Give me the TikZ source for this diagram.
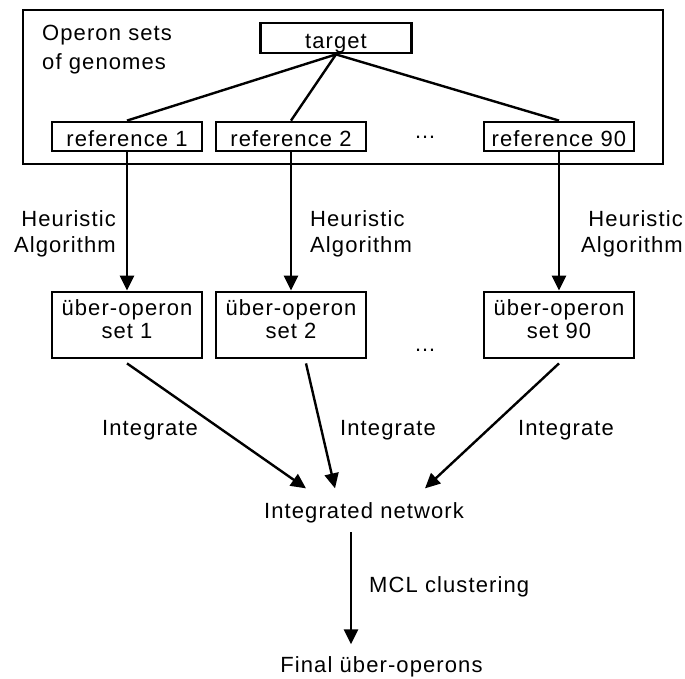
\documentclass[tikz,border=0pt]{standalone}
\usepackage{fontspec}
\setmainfont{Liberation Sans}[LetterSpace=5]
\usetikzlibrary{arrows.meta,calc}
\begin{document}
\begin{tikzpicture}[x=1pt,y=-1pt,
  every node/.style={font=\fontsize{22}{26}\selectfont, inner sep=0pt},
  frame/.style={draw, line width=2.8pt},
  refbox/.style={frame, minimum width=150pt, minimum height=29pt, text height=21pt, text depth=0pt},
  ubox/.style={frame, minimum width=150pt, minimum height=66pt, align=center, text height=40pt, text depth=14pt},
  conn/.style={line width=2.4pt},
  arr/.style={conn, -{Triangle[width=14pt,length=15pt]}},
]
\useasboundingbox (0,0) rectangle (685,679);

% outer frame
\node[frame, minimum width=640pt, minimum height=154pt] (outer) at (343,87) {};
\node[anchor=base west, align=left] (title) at (42,70) {Operon sets\\[3pt]of genomes};

% target and references
\node[refbox, minimum width=151pt, minimum height=30pt] (target) at (336,38) {target};
\node[refbox] (r1) at (127,136.5) {reference 1};
\node[refbox] (r2) at (291,136.5) {reference 2};
\node[refbox] (r90) at (559,136.5) {reference 90};
\node[anchor=base] (dots1) at (425,139) {\dots};

\draw[conn] (target.south) -- (r1.north);
\draw[conn] (target.south) -- (r2.north);
\draw[conn] (target.south) -- (r90.north);

% uber-operon sets
\node[ubox] (u1) at (127,325) {über-operon\\[-3pt]set 1};
\node[ubox] (u2) at (291,325) {über-operon\\[-3pt]set 2};
\node[ubox] (u90) at (559,325) {über-operon\\[-3pt]set 90};
\node[anchor=base] (dots2) at (425,351) {\dots};

\draw[arr] (r1.south) -- (u1.north);
\draw[arr] (r2.south) -- (u2.north);
\draw[arr] (r90.south) -- (u90.north);

\node[anchor=base east, align=right] (h1) at (116,252) {Heuristic\\Algorithm};
\node[anchor=base west, align=left] (h2) at (310,252) {Heuristic\\Algorithm};
\node[anchor=base east, align=right] (h90) at (683,252) {Heuristic\\Algorithm};

% integrated network
\node[anchor=base, inner ysep=13.5pt] (net) at (364,518) {Integrated network};
\draw[arr] ($(u1.south)+(0,4)$) -- ($(net.north)+(-58,0)$);
\draw[arr] ($(u2.south)+(15,4)$) -- ($(net.north)+(-29,0)$);
\draw[arr] ($(u90.south)+(0,4)$) -- ($(net.north)+(61,0)$);

\node[anchor=base west] (i1) at (102,435) {Integrate};
\node[anchor=base west] (i2) at (340,435) {Integrate};
\node[anchor=base west] (i90) at (518,435) {Integrate};

% final
\node[anchor=base, inner ysep=11.5pt] (final) at (381.5,672) {Final über-operons};
\draw[arr] ($(net.south)+(-13,-4)$) -- ($(final.north)+(-30.5,0)$);
\node[anchor=base west] (mcl) at (369,592) {MCL clustering};
\end{tikzpicture}
\end{document}
